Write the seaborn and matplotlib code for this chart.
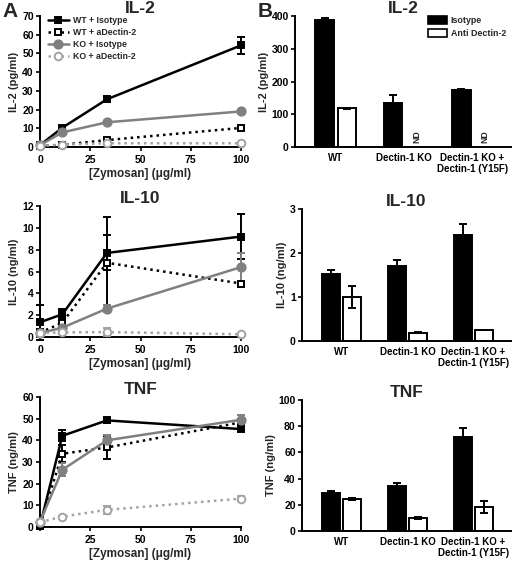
import numpy as np
import pandas as pd
import matplotlib
matplotlib.use('Agg')
import matplotlib.pyplot as plt
import seaborn as sns
from matplotlib.patches import Patch
from matplotlib.lines import Line2D

sns.set_theme(style='ticks')
plt.rcParams['font.family'] = ['Liberation Sans', 'DejaVu Sans']
plt.rcParams['font.weight'] = 'bold'
plt.rcParams['axes.labelweight'] = 'bold'

# ---------------- data ----------------
zymosan = [0, 11.1, 33.3, 100]
series = ['WT + Isotype', 'WT + aDectin-2', 'KO + Isotype', 'KO + aDectin-2']

il2_wt_iso = [1.0, 10.3, 25.5, 54.3]
il2_wt_iso_err = [0.4, 1.0, 1.0, 4.5]
il2_wt_adec = [0.5, 1.2, 3.7, 10.2]
il2_wt_adec_err = [0.2, 0.4, 0.5, 0.8]
il2_ko_iso = [1.0, 7.8, 13.2, 19.0]
il2_ko_iso_err = [0.3, 0.5, 0.6, 0.8]
il2_ko_adec = [0.5, 1.3, 2.0, 2.0]
il2_ko_adec_err = [0.2, 0.3, 0.3, 0.3]

il10_wt_iso = [1.35, 2.08, 7.7, 9.2]
il10_wt_iso_err = [1.6, 0.5, 1.6, 2.1]
il10_wt_adec = [0.4, 1.3, 6.8, 4.9]
il10_wt_adec_err = [0.3, 0.4, 4.2, 0.2]
il10_ko_iso = [0.35, 0.85, 2.6, 6.4]
il10_ko_iso_err = [0.2, 0.2, 0.3, 1.3]
il10_ko_adec = [0.35, 0.42, 0.45, 0.25]
il10_ko_adec_err = [0.1, 0.1, 0.4, 0.05]

tnf_wt_iso = [0.5, 42.1, 49.2, 45.2]
tnf_wt_iso_err = [0.5, 2.5, 1.0, 1.0]
tnf_wt_adec = [1.0, 33.8, 36.7, 48.3]
tnf_wt_adec_err = [0.5, 4.0, 5.5, 1.0]
tnf_ko_iso = [2.5, 26.4, 40.0, 49.5]
tnf_ko_iso_err = [0.5, 3.0, 2.5, 2.0]
tnf_ko_adec = [2.2, 4.8, 7.9, 13.1]
tnf_ko_adec_err = [0.3, 0.5, 2.0, 1.0]

groups = ['WT', 'Dectin-1 KO', 'Dectin-1 KO +\nDectin-1 (Y15F)']
treatments = ['Isotype', 'Anti Dectin-2']
bar_il2_iso = [388, 133, 174]
bar_il2_iso_err = [5, 25, 4]
bar_il2_anti = [118, np.nan, np.nan]
bar_il2_anti_err = [2, np.nan, np.nan]
bar_il10_iso = [1.52, 1.70, 2.42]
bar_il10_iso_err = [0.1, 0.15, 0.25]
bar_il10_anti = [1.0, 0.19, 0.25]
bar_il10_anti_err = [0.25, 0.01, 0.01]
bar_tnf_iso = [28.7, 34.0, 71.5]
bar_tnf_iso_err = [1.5, 3.0, 7.0]
bar_tnf_anti = [24.4, 9.9, 18.6]
bar_tnf_anti_err = [0.8, 0.8, 4.5]

# ---------------- layout ----------------
W, H = 512, 567
fig = plt.figure(figsize=(W / 100, H / 100), dpi=100)

def add_ax(l, r, t, b):
    return fig.add_axes([l / W, 1 - b / H, (r - l) / W, (b - t) / H])

axA = [add_ax(40, 241, 16, 147), add_ax(40, 241, 206, 337), add_ax(40, 241, 397, 527)]
axB = [add_ax(295, 511, 16, 147), add_ax(302, 511, 209, 341), add_ax(302, 511, 400, 531)]

styles = {
    'WT + Isotype': dict(color='black', ls='-', marker='s', mfc='black', ms=5.0),
    'WT + aDectin-2': dict(color='black', ls=(0, (1, 1.6)), marker='s', mfc='white', ms=4.5),
    'KO + Isotype': dict(color='#808080', ls='-', marker='o', mfc='#808080', ms=6.0),
    'KO + aDectin-2': dict(color='#a3a3a3', ls=(0, (1, 1.6)), marker='o', mfc='white', ms=5.5),
}

def style_ax(ax, fs=7.5):
    sns.despine(ax=ax)
    for s in ['left', 'bottom']:
        ax.spines[s].set_linewidth(1.4)
        ax.spines[s].set_color('black')
    ax.tick_params(axis='both', width=1.2, length=3, labelsize=fs, pad=1.5, colors='black')
    ax.tick_params(axis='x', pad=3)
    for lab in ax.get_xticklabels() + ax.get_yticklabels():
        lab.set_fontweight('bold')

line_sets = [
    ('IL-2', 'IL-2 (pg/ml)', 70, 10,
     [il2_wt_iso, il2_wt_adec, il2_ko_iso, il2_ko_adec],
     [il2_wt_iso_err, il2_wt_adec_err, il2_ko_iso_err, il2_ko_adec_err]),
    ('IL-10', 'IL-10 (ng/ml)', 12, 2,
     [il10_wt_iso, il10_wt_adec, il10_ko_iso, il10_ko_adec],
     [il10_wt_iso_err, il10_wt_adec_err, il10_ko_iso_err, il10_ko_adec_err]),
    ('TNF', 'TNF (ng/ml)', 60, 10,
     [tnf_wt_iso, tnf_wt_adec, tnf_ko_iso, tnf_ko_adec],
     [tnf_wt_iso_err, tnf_wt_adec_err, tnf_ko_iso_err, tnf_ko_adec_err]),
]

for i, (ax, (title, ylab, ymax, ystep, vals, errs)) in enumerate(zip(axA, line_sets)):
    rows = []
    for s, v, e in zip(series, vals, errs):
        for x, y, er in zip(zymosan, v, e):
            rows.append(dict(x=x, y=y, err=er, series=s))
    df = pd.DataFrame(rows)
    for s in series:
        st = styles[s]
        sub = df[df.series == s]
        ax.errorbar(sub.x, sub.y, yerr=sub.err, fmt='none', ecolor=st['color'],
                    elinewidth=1.4, capsize=2.6, capthick=1.4, clip_on=False, zorder=3)
        sns.lineplot(data=sub, x='x', y='y', ax=ax, color=st['color'], linestyle=st['ls'],
                     linewidth=1.8, marker=st['marker'], markersize=st['ms'],
                     markerfacecolor=st['mfc'], markeredgecolor=st['color'],
                     markeredgewidth=1.4, clip_on=False, zorder=4, legend=False)
    ax.set_xlim(0, 100)
    ax.set_ylim(0, ymax)
    ax.set_xticks([0, 25, 50, 75, 100])
    if title == 'TNF':
        ax.set_xticklabels(['', '25', '50', '75', '100'])
    ax.set_yticks(np.arange(0, ymax + 0.01, ystep))
    ax.set_xlabel('[Zymosan] (\u03bcg/ml)', fontsize=8.5, fontweight='bold', labelpad=2)
    ax.set_ylabel(ylab, fontsize=8, fontweight='bold', labelpad=2)
    ax.set_title(title, fontsize=12.5, fontweight='bold', pad=2)
    style_ax(ax)
    if i == 0:
        handles = [Line2D([0], [0], color=styles[s]['color'], ls=styles[s]['ls'], lw=1.8,
                          marker=styles[s]['marker'], ms=styles[s]['ms'],
                          mfc=styles[s]['mfc'], mec=styles[s]['color'], mew=1.4)
                   for s in series]
        leg = ax.legend(handles, series, loc='upper left', bbox_to_anchor=(0.02, 1.03),
                        frameon=False, fontsize=6.3, handlelength=2.4, labelspacing=0.35,
                        handletextpad=0.5, borderaxespad=0)
        for t in leg.get_texts():
            t.set_fontweight('bold')

bar_sets = [
    ('IL-2', 'IL-2 (pg/ml)', 400, 100, bar_il2_iso, bar_il2_iso_err, bar_il2_anti, bar_il2_anti_err),
    ('IL-10', 'IL-10 (ng/ml)', 3, 1, bar_il10_iso, bar_il10_iso_err, bar_il10_anti, bar_il10_anti_err),
    ('TNF', 'TNF (ng/ml)', 100, 20, bar_tnf_iso, bar_tnf_iso_err, bar_tnf_anti, bar_tnf_anti_err),
]

for i, (ax, (title, ylab, ymax, ystep, iso, iso_e, anti, anti_e)) in enumerate(zip(axB, bar_sets)):
    rows = []
    for g, a, b, ea, eb in zip(groups, iso, anti, iso_e, anti_e):
        rows.append(dict(group=g, treat='Isotype', val=a, err=ea))
        rows.append(dict(group=g, treat='Anti Dectin-2', val=b, err=eb))
    df = pd.DataFrame(rows)
    dfp = df.dropna()
    sns.barplot(data=dfp, x='group', y='val', hue='treat', order=groups, hue_order=treatments,
                palette={'Isotype': 'black', 'Anti Dectin-2': 'white'}, edgecolor='black',
                linewidth=1.4, width=0.65, gap=0.15, errorbar=None, ax=ax, legend=False, zorder=2)
    bar_conts = list(ax.containers)
    # error bars at bar centres
    for h, cont in enumerate(bar_conts):
        treat = treatments[h]
        present = [g for g in groups if g in set(dfp[dfp.treat == treat].group)]
        for bar, g in zip(cont, present):
            r = dfp[(dfp.treat == treat) & (dfp.group == g)].iloc[0]
            xc = bar.get_x() + bar.get_width() / 2
            ax.errorbar([xc], [r.val], yerr=[r.err], fmt='none', ecolor='black',
                        elinewidth=1.4, capsize=2.6, capthick=1.4, zorder=3)
    # ND labels
    nd = df[df.val.isna()]
    for _, r in nd.iterrows():
        gi = groups.index(r.group)
        ax.text(gi + 0.19, ymax * 0.03, 'ND', rotation=90, ha='center', va='bottom',
                fontsize=6.3, fontweight='bold')
    ax.set_xlim(-0.6, 2.57)
    ax.set_ylim(0, ymax)
    ax.set_yticks(np.arange(0, ymax + 0.001, ystep))
    ax.set_xlabel('')
    ax.set_ylabel(ylab, fontsize=8, fontweight='bold', labelpad=2)
    ax.set_title(title, fontsize=12.5, fontweight='bold', pad=2)
    style_ax(ax)
    ax.tick_params(axis='x', length=0, pad=4, labelsize=7)
    if i == 0:
        handles = [Patch(facecolor='black', edgecolor='black', linewidth=1.2),
                   Patch(facecolor='white', edgecolor='black', linewidth=1.2)]
        leg = ax.legend(handles, treatments, loc='upper left', bbox_to_anchor=(0.6, 1.03),
                        frameon=False, fontsize=6.4, handlelength=2.1, handleheight=1.1,
                        labelspacing=0.45, handletextpad=0.45, borderaxespad=0)
        for t in leg.get_texts():
            t.set_fontweight('bold')

fig.text(2 / W, 1 - 2 / H, 'A', fontsize=15, fontweight='bold', va='top', ha='left')
fig.text(258 / W, 1 - 2 / H, 'B', fontsize=15, fontweight='bold', va='top', ha='left')

fig.savefig('out.png', dpi=100)
